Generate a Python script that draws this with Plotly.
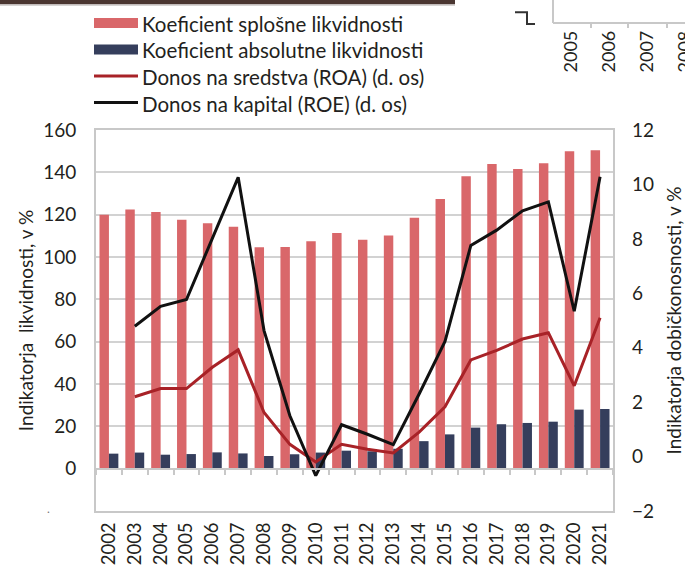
import plotly.graph_objects as go

# ---------------- data ----------------
years = ["2002", "2003", "2004", "2005", "2006", "2007", "2008", "2009", "2010", "2011",
         "2012", "2013", "2014", "2015", "2016", "2017", "2018", "2019", "2020", "2021"]
general_liquidity = [120.0, 122.4, 121.3, 117.6, 116.0, 114.3, 104.6, 104.7, 107.4, 111.3,
                     108.2, 110.2, 118.6, 127.4, 138.1, 143.9, 141.6, 144.3, 150.0, 150.4]
absolute_liquidity = [7.1, 7.6, 6.6, 6.9, 7.7, 7.2, 6.0, 6.8, 7.6, 8.5,
                      8.2, 9.4, 13.0, 16.2, 19.4, 21.0, 21.6, 22.2, 27.9, 28.2]
roa = [None, 2.2, 2.5, 2.5, 3.28, 3.92, 1.62, 0.45, -0.2, 0.45,
       0.27, 0.13, 0.9, 1.83, 3.55, 3.9, 4.32, 4.55, 2.6, 5.1]
roe = [None, 4.79, 5.52, 5.77, 8.0, 10.26, 4.63, 1.5, -0.7, 1.17,
       0.82, 0.44, 2.3, 4.23, 7.76, 8.32, 9.03, 9.36, 5.34, 10.28]

series_names = ["Koeficient splošne likvidnosti",
                "Koeficient absolutne likvidnosti",
                "Donos na sredstva (ROA) (d. os)",
                "Donos na kapital (ROE) (d. os)"]
left_title = "Indikatorja  likvidnosti, v %"
right_title = "Indikatorja dobičkonosnosti, v %"
left_ticks = [0, 20, 40, 60, 80, 100, 120, 140, 160]
right_ticks = [-2, 0, 2, 4, 6, 8, 10, 12]
fragment_years = ["2005", "2006", "2007", "2008"]

# ---------------- style ----------------
RED = "#D9676A"
NAVY = "#353E5C"
ROA_C = "#A82227"
ROE_C = "#111111"
GRID = "#D2D2D2"
TXT = "#231F20"
FONT = "Lato, sans-serif"

W, H = 685, 566
L, R, T, B = 96, 72, 130, 55
PW, PH = W - L - R, H - T - B


def px(x):
    return (x - L) / PW


def py(y):
    return (T + PH - y) / PH


fig = go.Figure()
fig.add_trace(go.Bar(x=years, y=general_liquidity, name=series_names[0],
                     marker=dict(color=RED, line=dict(width=0))))
fig.add_trace(go.Bar(x=years, y=absolute_liquidity, name=series_names[1],
                     marker=dict(color=NAVY, line=dict(width=0))))
fig.add_trace(go.Scatter(x=years, y=roa, name=series_names[2], yaxis="y2", mode="lines",
                         line=dict(color=ROA_C, width=3), connectgaps=False))
fig.add_trace(go.Scatter(x=years, y=roe, name=series_names[3], yaxis="y2", mode="lines",
                         line=dict(color=ROE_C, width=3), connectgaps=False))
# helper empty trace so the zero-position axis with boundary ticks is drawn
fig.add_trace(go.Scatter(x=[None], y=[None], xaxis="x2", yaxis="y", showlegend=False,
                         hoverinfo="skip"))

shapes = []
annotations = []

# custom legend
legend_rows = [23, 49.5, 76, 102.5]
for i, (name, yc) in enumerate(zip(series_names, legend_rows)):
    if i < 2:
        shapes.append(dict(type="rect", xref="paper", yref="paper",
                           x0=px(94), x1=px(138), y0=py(yc - 5), y1=py(yc + 5),
                           fillcolor=[RED, NAVY][i], line=dict(width=0)))
    else:
        shapes.append(dict(type="line", xref="paper", yref="paper",
                           x0=px(94), x1=px(138), y0=py(yc), y1=py(yc),
                           line=dict(color=[ROA_C, ROE_C][i - 2], width=3)))
    annotations.append(dict(text=name, xref="paper", yref="paper", x=px(140), y=py(yc + 1),
                            xanchor="left", yanchor="middle", showarrow=False,
                            font=dict(family=FONT, size=20.5, color=TXT)))

# page fragments at the top (from the source document)
shapes.append(dict(type="rect", xref="paper", yref="paper", x0=px(0), x1=px(455),
                   y0=py(0), y1=py(4.3), fillcolor="#4A3631", line=dict(width=0)))
shapes.append(dict(type="line", xref="paper", yref="paper", x0=px(0), x1=px(455),
                   y0=py(5), y1=py(5), line=dict(color="#B0AAA8", width=1)))
shapes.append(dict(type="path", xref="paper", yref="paper",
                   path=f"M{px(515)},{py(12.3)} L{px(527)},{py(12.3)} L{px(527)},{py(24)} L{px(535)},{py(24)}",
                   line=dict(color="#333333", width=2)))
shapes.append(dict(type="line", xref="paper", yref="paper", x0=px(553), x1=px(553),
                   y0=py(0), y1=py(23), line=dict(color="#C8C8C8", width=2)))
shapes.append(dict(type="line", xref="paper", yref="paper", x0=px(553), x1=px(686),
                   y0=py(23), y1=py(23), line=dict(color="#C8C8C8", width=2)))
for tx in [591, 628, 667]:
    shapes.append(dict(type="line", xref="paper", yref="paper", x0=px(tx), x1=px(tx),
                       y0=py(23), y1=py(28), line=dict(color="#C8C8C8", width=2)))
for lbl, lx in zip(fragment_years, [569.5, 607.5, 645.5, 683.5]):
    annotations.append(dict(text=lbl, xref="paper", yref="paper", x=px(lx), y=py(29),
                            xanchor="center", yanchor="top", textangle=-90, showarrow=False,
                            font=dict(family=FONT, size=18, color=TXT)))
annotations.append(dict(text=".", xref="paper", yref="paper", x=px(48), y=py(508),
                        xanchor="center", yanchor="middle", showarrow=False,
                        font=dict(family=FONT, size=12, color="#777777")))

fig.update_layout(
    width=W, height=H,
    margin=dict(l=L, r=R, t=T, b=B, autoexpand=False),
    paper_bgcolor="white", plot_bgcolor="white",
    font=dict(family=FONT, size=19, color=TXT),
    barmode="group", bargap=0.27, bargroupgap=0,
    showlegend=False,
    shapes=shapes, annotations=annotations,
    xaxis=dict(type="category", range=[-0.5, 19.5], tickangle=-90, ticks="",
               showline=True, linecolor="#C8C8C8", linewidth=2, mirror=True,
               showgrid=False, zeroline=False, ticklabelstandoff=2,
               tickfont=dict(family=FONT, size=18.5, color=TXT)),
    xaxis2=dict(overlaying="x", anchor="free", position=20 / 180, side="bottom",
                type="linear", range=[-0.5, 19.5], tick0=-0.5, dtick=1,
                ticks="outside", ticklen=5, tickwidth=2, tickcolor="#C8C8C8",
                showline=True, linecolor="#C8C8C8", linewidth=2,
                showticklabels=False, showgrid=False, zeroline=False),
    yaxis=dict(range=[-20, 160], tickvals=left_ticks, showgrid=True, gridcolor=GRID,
               gridwidth=2, showline=True, linecolor="#C8C8C8", linewidth=2, mirror=True,
               zeroline=False, ticks="", ticklabelstandoff=14,
               title=dict(text=left_title, standoff=4,
                          font=dict(family=FONT, size=19, color=TXT)),
               tickfont=dict(family=FONT, size=19, color=TXT)),
    yaxis2=dict(overlaying="y", side="right", range=[-2, 12], tickvals=right_ticks,
                showgrid=False, zeroline=False, showline=False, ticks="",
                ticklabelstandoff=18,
                title=dict(text=right_title, standoff=14,
                           font=dict(family=FONT, size=19, color=TXT)),
                tickfont=dict(family=FONT, size=19, color=TXT)),
)

fig.write_html("out.html", config={"displayModeBar": False},
               post_script="document.body.style.margin='0';document.body.style.padding='0';")
